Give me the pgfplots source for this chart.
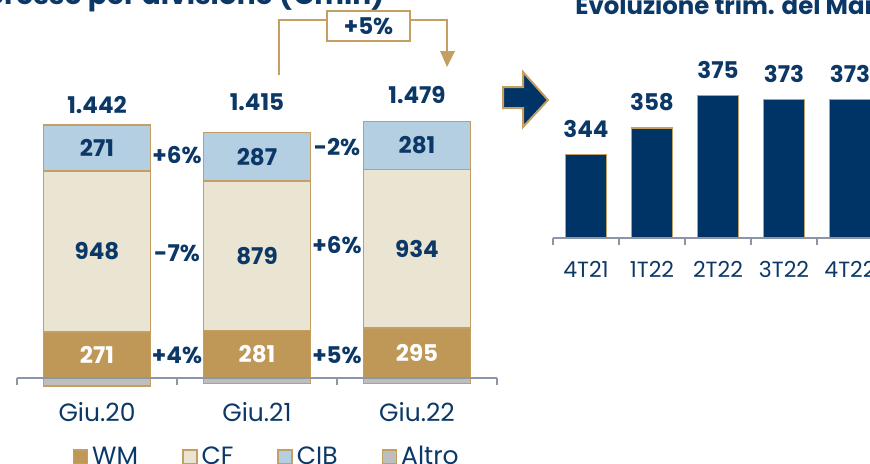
\documentclass[border=0pt]{standalone}
\usepackage{pgfplots}
\pgfplotsset{compat=1.18}
\usepackage{fontspec}
\setmainfont{Poppins}
\definecolor{navy}{HTML}{0C3867}
\definecolor{barnavy}{HTML}{003366}
\definecolor{gold}{HTML}{BF9757}
\definecolor{goldline}{HTML}{C49E62}
\definecolor{beige}{HTML}{EAE4D2}
\definecolor{lblue}{HTML}{B4CFE1}
\definecolor{altro}{HTML}{BEBEBE}
\definecolor{axgray}{HTML}{8D96A7}
\tikzset{bl/.style={font=\bfseries\fontsize{11.5}{11.5}\selectfont, text=navy, inner sep=0pt}}
\begin{document}
\begin{tikzpicture}
\useasboundingbox (0,0) rectangle (435pt,231.5pt);
\clip (0,0) rectangle (435pt,231.5pt);
% titles (cut by the frame)
\node[anchor=base east, font=\bfseries\fontsize{14}{14}\selectfont, text=navy, inner sep=0pt] at (192.5pt,229.5pt) {Margine di interesse per divisione (€mln)};
\node[anchor=base west, font=\bfseries\fontsize{12.2}{12.2}\selectfont, text=navy, inner sep=0pt] at (287.5pt,224.5pt) {Evoluzione trim. del Margine di interesse};
% Altro (negative, below the axis line)
\begin{axis}[at={(8.5pt,42.5pt)}, anchor=south west, scale only axis,
  width=240pt, height=135.85pt, xmin=-0.5, xmax=2.5, ymin=0, ymax=1600,
  hide axis, clip=false, ybar, bar width=53.5pt]
\addplot[fill=altro, draw=goldline, line width=0.75pt] coordinates {(0,-48) (1,-32) (2,-31)};
\end{axis}
% stacked divisions
\begin{axis}[at={(8.5pt,42.5pt)}, anchor=south west, scale only axis,
  width=240pt, height=135.85pt, xmin=-0.5, xmax=2.5, ymin=0, ymax=1600,
  clip=false, ybar stacked, bar width=53.5pt, axis on top,
  axis y line=none, axis x line*=bottom,
  x axis line style={draw=axgray, line width=1pt, -},
  xtick={0,1,2}, xticklabels={Giu.20,Giu.21,Giu.22},
  minor xtick={-0.5,0.5,1.5,2.5},
  major tick length=0pt, minor tick length=3.5pt, tick align=outside,
  minor tick style={draw=axgray, line width=1pt},
  xticklabel style={font=\fontsize{12.5}{12.5}\selectfont, text=navy, anchor=base, yshift=-21.5pt},
  legend columns=4,
  legend image code/.code={\draw[#1, line width=0.75pt] (0pt,-3.5pt) rectangle (7pt,3.5pt);},
  legend style={at={(0.115,-0.29)}, anchor=west, draw=none, fill=none, inner sep=0pt,
    font=\fontsize{12.5}{12.5}\selectfont, text=navy,
    /tikz/every even column/.append style={column sep=20pt}},
]
\addplot[fill=gold, draw=goldline, line width=0.75pt] coordinates {(0,271) (1,281) (2,295)};
\addplot[fill=beige, draw=goldline, line width=0.75pt] coordinates {(0,948) (1,879) (2,934)};
\addplot[fill=lblue, draw=goldline, line width=0.75pt] coordinates {(0,271) (1,287) (2,281)};
\addlegendentry{WM}
\addlegendentry{CF}
\addlegendentry{CIB}
\addlegendimage{fill=altro, draw=goldline}
\addlegendentry{Altro}
\end{axis}
% labels of the left chart
\begin{axis}[at={(8.5pt,42.5pt)}, anchor=south west, scale only axis,
  width=240pt, height=135.85pt, xmin=-0.5, xmax=2.5, ymin=0, ymax=1600,
  hide axis, clip=false]
\node[bl, text=white] at (axis cs:0,135.5) {271};
\node[bl] at (axis cs:0,745) {948};
\node[bl] at (axis cs:0,1354.5) {271};
\node[bl, text=white] at (axis cs:1,140.5) {281};
\node[bl] at (axis cs:1,720.5) {879};
\node[bl] at (axis cs:1,1303.5) {287};
\node[bl, text=white] at (axis cs:2,147.5) {295};
\node[bl] at (axis cs:2,762) {934};
\node[bl] at (axis cs:2,1369.5) {281};
% totals
\node[bl] at (axis cs:0,1608) {1.442};
\node[bl] at (axis cs:1,1625) {1.415};
\node[bl] at (axis cs:2,1666) {1.479};
% changes
\node[bl] at (axis cs:0.5,1313) {+6\%};
\node[bl] at (axis cs:0.5,736) {-7\%};
\node[bl] at (axis cs:0.5,135) {+4\%};
\node[bl] at (axis cs:1.5,1360) {-2\%};
\node[bl] at (axis cs:1.5,783) {+6\%};
\node[bl] at (axis cs:1.5,135) {+5\%};
\end{axis}
% +5% bracket
\draw[goldline, line width=1pt] (139.5pt,194pt) -- (139.5pt,221.5pt) -- (223.5pt,221.5pt) -- (223.5pt,206pt);
\fill[goldline] (220pt,206pt) -- (227.5pt,206pt) -- (223.5pt,198pt) -- cycle;
\draw[goldline, line width=1pt, fill=white] (163.5pt,211pt) rectangle (205pt,226pt);
\node[bl] at (184.25pt,218.5pt) {+5\%};
% block arrow
\draw[goldline, line width=1pt, fill=barnavy] (251.5pt,188pt) -- (261.5pt,188pt) -- (261.5pt,195.5pt) -- (274pt,181.5pt) -- (261.5pt,168pt) -- (261.5pt,177.5pt) -- (251.5pt,177.5pt) -- cycle;
% quarterly chart
\begin{axis}[at={(276.5pt,112.5pt)}, anchor=south west, scale only axis,
  width=165pt, height=95pt, xmin=-0.5, xmax=4.5, ymin=300, ymax=400,
  ybar, bar width=20.5pt, axis on top,
  axis y line=none, axis x line*=bottom,
  x axis line style={draw=axgray, line width=1pt, -},
  xtick={0,1,2,3,4}, xticklabels={4T21,1T22,2T22,3T22,4T22},
  minor xtick={-0.5,0.5,1.5,2.5,3.5,4.5},
  major tick length=0pt, minor tick length=3.5pt, tick align=outside,
  minor tick style={draw=axgray, line width=1pt},
  xticklabel style={font=\fontsize{11}{11}\selectfont, text=navy, anchor=base, yshift=-19.5pt},
  /pgf/number format/assume math mode=true,
  nodes near coords,
  every node near coord/.append style={bl, anchor=base, yshift=8.5pt},
]
\addplot[fill=barnavy, draw=goldline, line width=0.75pt] coordinates {(0,344) (1,358) (2,375) (3,373) (4,373)};
\end{axis}
\end{tikzpicture}
\end{document}
